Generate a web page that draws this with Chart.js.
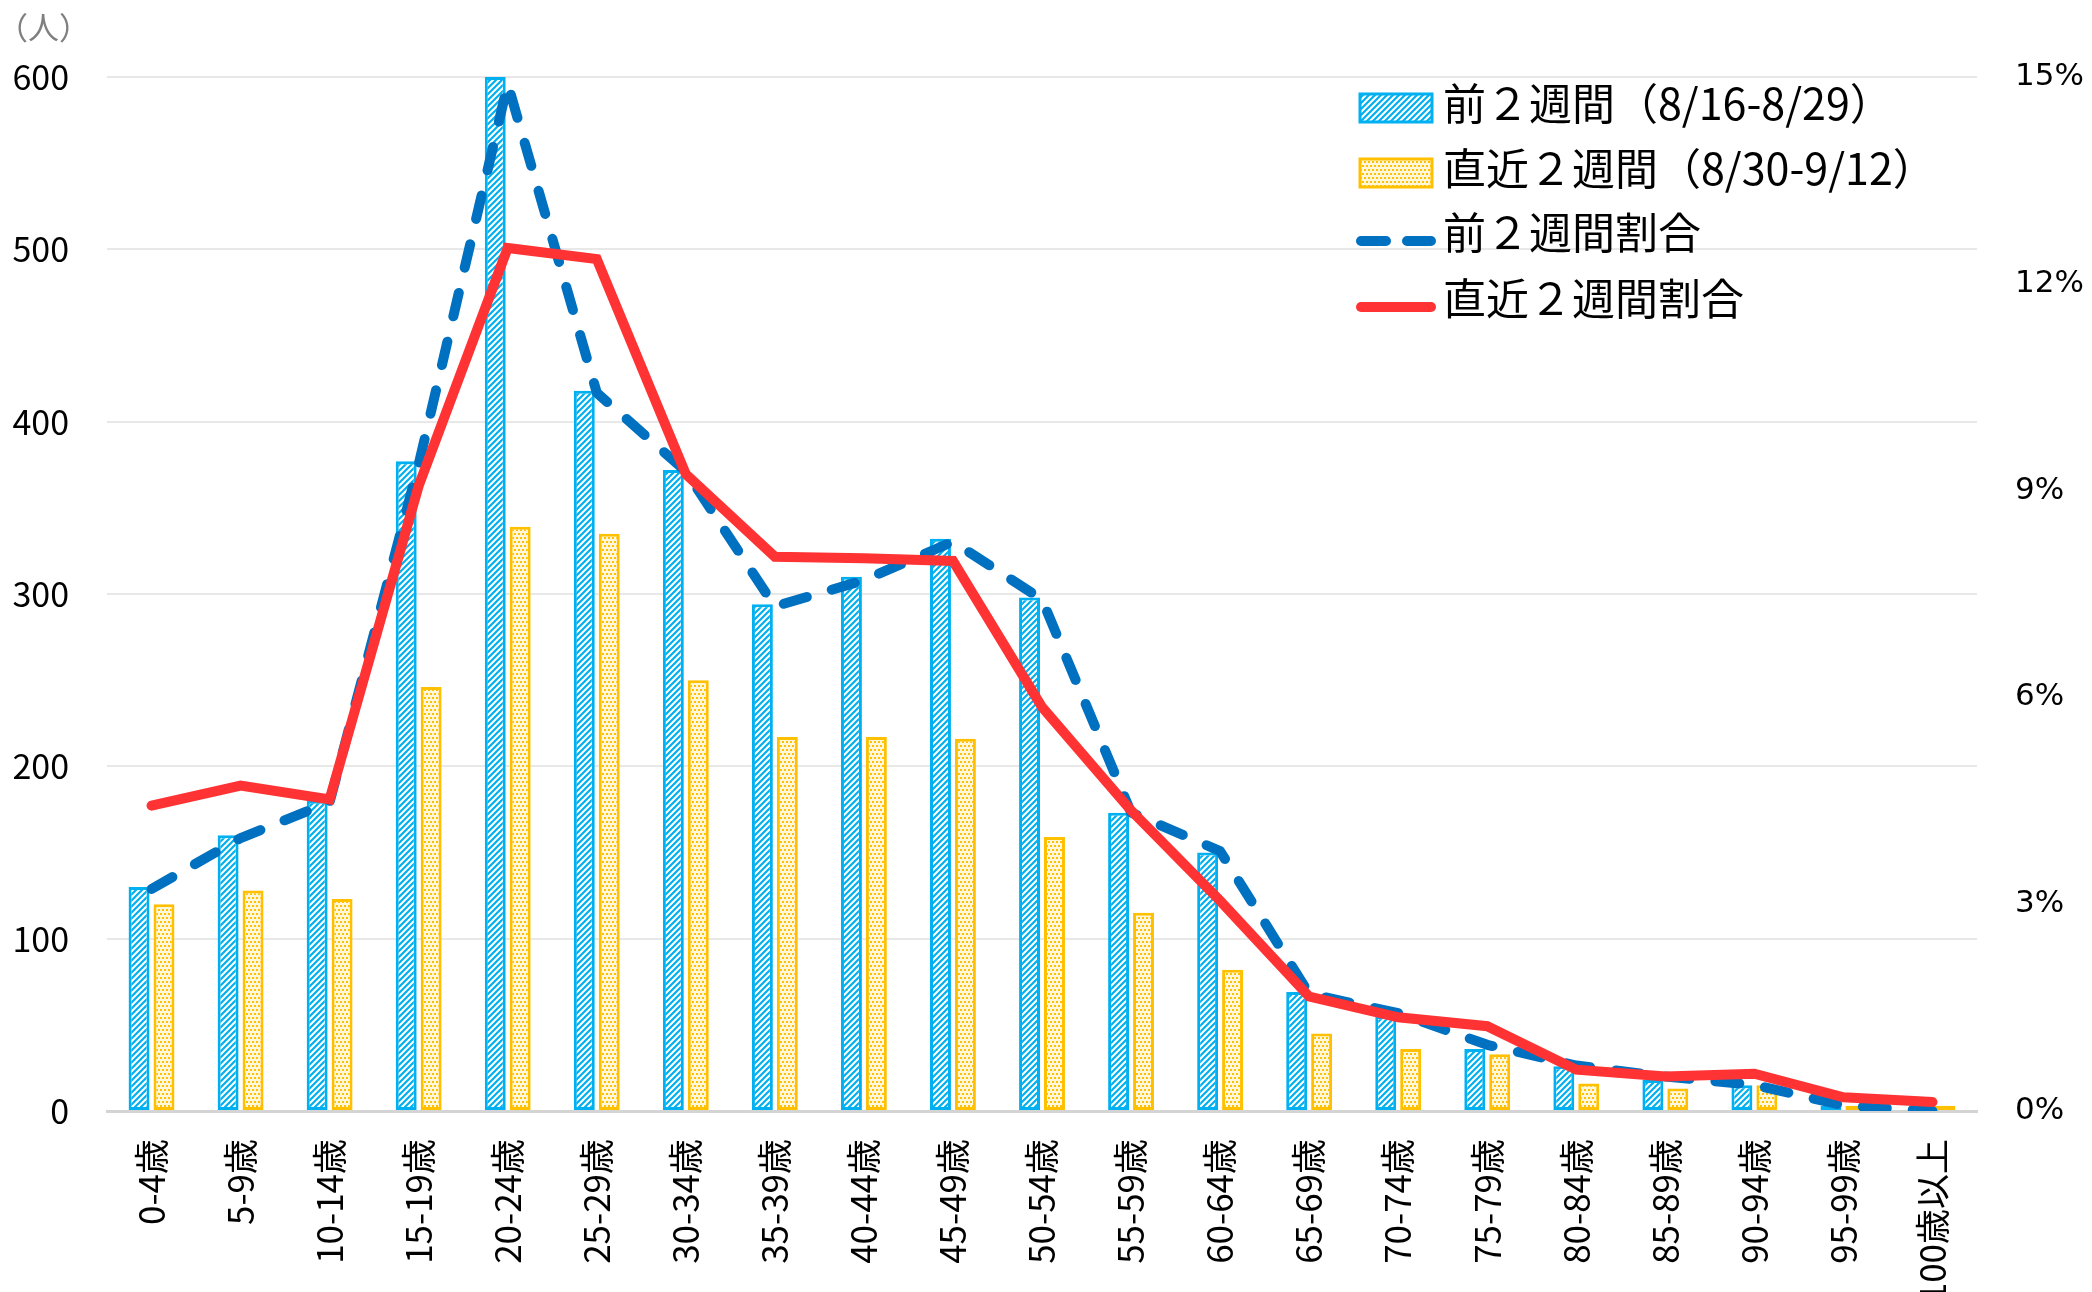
<!DOCTYPE html>
<html lang="ja">
<head>
<meta charset="utf-8">
<title>年代別陽性者数</title>
<script src="https://cdn.jsdelivr.net/npm/chart.js@4.4.1/dist/chart.umd.min.js"></script>
<style>
  html, body { margin: 0; padding: 0; background: #fff; overflow: hidden; }
  #chartBox { width: 2092px; height: 1292px; }
</style>
</head>
<body>
<div id="chartBox"><canvas id="ageChart" width="2092" height="1292"></canvas></div>
<script>
// 年代区分
const ageGroups = ['0-4歳', '5-9歳', '10-14歳', '15-19歳', '20-24歳', '25-29歳', '30-34歳',
    '35-39歳', '40-44歳', '45-49歳', '50-54歳', '55-59歳', '60-64歳', '65-69歳', '70-74歳',
    '75-79歳', '80-84歳', '85-89歳', '90-94歳', '95-99歳', '100歳以上'];

// 人数
const prevCounts = [130, 160, 180, 377, 600, 418, 372, 294, 310, 332, 298, 173, 150, 69, 55, 36, 26, 18, 15, 3, 0];
const recentCounts = [120, 128, 123, 246, 339, 335, 250, 217, 217, 216, 159, 115, 82, 45, 36, 33, 16, 13, 15, 3, 3];

// 割合 (%)
const prevShare = [3.22, 3.96, 4.48, 9.38, 14.9, 10.42, 9.28, 7.32, 7.7, 8.26, 7.42, 4.33, 3.77, 1.7, 1.42, 0.96, 0.66, 0.5, 0.38, 0.08, 0];
const recentShare = [4.43, 4.72, 4.52, 9.07, 12.52, 12.36, 9.24, 8.04, 8.02, 7.98, 5.86, 4.36, 3.05, 1.66, 1.36, 1.23, 0.6, 0.5, 0.54, 0.2, 0.13];

const labelPrev = '前２週間（8/16-8/29）';
const labelRecent = '直近２週間（8/30-9/12）';
const labelPrevShare = '前２週間割合';
const labelRecentShare = '直近２週間割合';

const JP_FONT = '"Noto Sans CJK JP", "Noto Sans", sans-serif';

function stripePattern(color) {
    const c = document.createElement('canvas');
    c.width = 6; c.height = 6;
    const g = c.getContext('2d');
    g.fillStyle = '#ffffff';
    g.fillRect(0, 0, 6, 6);
    g.strokeStyle = color;
    g.lineWidth = 2.2;
    g.beginPath();
    g.moveTo(0, 6); g.lineTo(6, 0);
    g.moveTo(-1, 1); g.lineTo(1, -1);
    g.moveTo(5, 7); g.lineTo(7, 5);
    g.stroke();
    return g.createPattern(c, 'repeat');
}

function dotPattern(color) {
    const c = document.createElement('canvas');
    c.width = 4; c.height = 8;
    const g = c.getContext('2d');
    g.fillStyle = '#fff7dc';
    g.fillRect(0, 0, 4, 8);
    g.fillStyle = color;
    g.fillRect(0, 1, 2, 2);
    g.fillRect(2, 5, 2, 2);
    return g.createPattern(c, 'repeat');
}

const blueFill = stripePattern('#00B0F0');
const yellowFill = dotPattern('#FFC000');

// 左上の単位と凡例
const extrasPlugin = {
    id: 'extras',
    afterDraw(chart) {
        const ctx = chart.ctx;
        ctx.save();
        ctx.textBaseline = 'middle';
        ctx.textAlign = 'left';
        ctx.font = '31px ' + JP_FONT;
        ctx.fillStyle = '#808080';
        ctx.fillText('（人）', -3, 27);

        const rows = [104, 169, 233, 299];
        // bars
        ctx.fillStyle = blueFill;
        ctx.fillRect(1360, rows[0] - 10, 72, 28);
        ctx.strokeStyle = '#00B0F0';
        ctx.lineWidth = 3;
        ctx.strokeRect(1360, rows[0] - 10, 72, 28);
        ctx.fillStyle = yellowFill;
        ctx.fillRect(1360, rows[1] - 10, 72, 28);
        ctx.strokeStyle = '#FFC000';
        ctx.strokeRect(1360, rows[1] - 10, 72, 28);
        // lines
        ctx.lineCap = 'round';
        ctx.lineWidth = 10;
        ctx.strokeStyle = '#0070C0';
        ctx.setLineDash([25, 21]);
        ctx.beginPath();
        ctx.moveTo(1361, rows[2] + 8); ctx.lineTo(1431, rows[2] + 8);
        ctx.stroke();
        ctx.setLineDash([]);
        ctx.strokeStyle = '#FF3333';
        ctx.beginPath();
        ctx.moveTo(1361, rows[3] + 8); ctx.lineTo(1431, rows[3] + 8);
        ctx.stroke();

        ctx.font = '43px ' + JP_FONT;
        ctx.fillStyle = '#000000';
        [labelPrev, labelRecent, labelPrevShare, labelRecentShare].forEach((t, i) => {
            ctx.fillText(t, 1443, rows[i]);
        });
        ctx.restore();
    }
};

Chart.defaults.font.family = JP_FONT;
Chart.defaults.color = '#000000';

const ctx = document.getElementById('ageChart').getContext('2d');
const ageChart = new Chart(ctx, {
    type: 'bar',
    data: {
        labels: ageGroups,
        datasets: [
            {
                label: labelPrev,
                data: prevCounts,
                backgroundColor: blueFill,
                borderColor: '#00B0F0',
                borderWidth: 3,
                borderSkipped: false,
                categoryPercentage: 0.56,
                barPercentage: 0.84,
                yAxisID: 'y',
                order: 2
            },
            {
                label: labelRecent,
                data: recentCounts,
                backgroundColor: yellowFill,
                borderColor: '#FFC000',
                borderWidth: 3,
                borderSkipped: false,
                categoryPercentage: 0.56,
                barPercentage: 0.84,
                yAxisID: 'y',
                order: 2
            },
            {
                type: 'line',
                label: labelPrevShare,
                data: prevShare,
                borderColor: '#0070C0',
                borderWidth: 10,
                borderDash: [24, 26],
                borderCapStyle: 'round',
                borderJoinStyle: 'round',
                pointRadius: 0,
                tension: 0,
                fill: false,
                yAxisID: 'y1',
                order: 1
            },
            {
                type: 'line',
                label: labelRecentShare,
                data: recentShare,
                borderColor: '#FF3333',
                borderWidth: 10,
                borderCapStyle: 'round',
                borderJoinStyle: 'miter',
                pointRadius: 0,
                tension: 0,
                fill: false,
                yAxisID: 'y1',
                order: 0
            }
        ]
    },
    options: {
        responsive: false,
        animation: false,
        layout: {
            padding: { top: 77, left: 0, right: 0, bottom: 0 }
        },
        plugins: {
            legend: { display: false },
            tooltip: { enabled: false }
        },
        scales: {
            x: {
                grid: { display: false },
                border: { display: true, color: '#d4d4d4', width: 3 },
                ticks: {
                    autoSkip: false,
                    minRotation: 90,
                    maxRotation: 90,
                    padding: 20,
                    font: { size: 35 },
                    color: '#000000'
                },
                afterFit: function(scale) { scale.height = 181; }
            },
            y: {
                position: 'left',
                min: 0,
                max: 600,
                grid: { color: '#e8e8e8', lineWidth: 2, drawTicks: false },
                border: { display: false },
                ticks: {
                    stepSize: 100,
                    padding: 38,
                    font: { size: 34 },
                    color: '#000000'
                },
                afterFit: function(scale) { scale.width = 107; }
            },
            y1: {
                position: 'right',
                min: 0,
                max: 15,
                grid: { display: false, drawTicks: false },
                border: { display: false },
                ticks: {
                    stepSize: 3,
                    padding: 38,
                    font: { size: 31, family: '"DejaVu Sans", Verdana, sans-serif' },
                    color: '#000000',
                    callback: function(value) { return value + '%'; }
                },
                afterFit: function(scale) { scale.width = 115; }
            }
        }
    },
    plugins: [extrasPlugin]
});
</script>
</body>
</html>
